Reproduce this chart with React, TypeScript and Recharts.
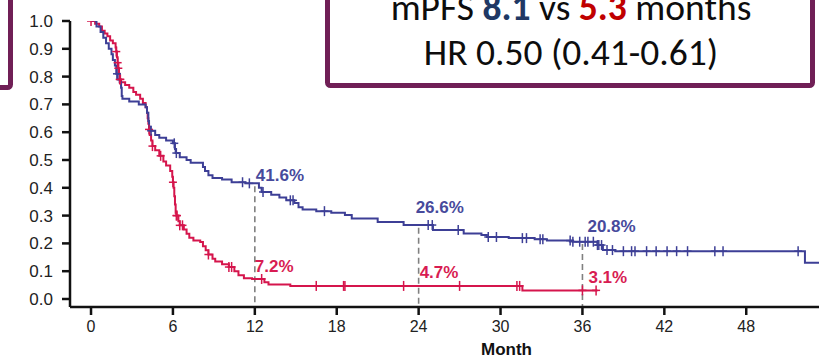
import { ComposedChart, Line, Scatter, XAxis, YAxis, ReferenceLine } from 'recharts'

// Kaplan-Meier steps: [month, survival probability]
const blueCurve: [number, number][] = [
  [0, 1.0], [0.4, 0.98], [0.7, 0.96], [0.9, 0.94], [1.1, 0.92], [1.3, 0.9], [1.5, 0.88],
  [1.6, 0.86], [1.75, 0.84], [1.85, 0.81], [1.95, 0.79], [2.1, 0.78], [2.2, 0.76], [2.25, 0.73],
  [2.3, 0.72], [2.8, 0.71], [3.5, 0.7], [4.0, 0.69], [4.1, 0.67], [4.2, 0.64], [4.25, 0.62],
  [4.35, 0.605], [4.7, 0.59], [5.0, 0.58], [5.5, 0.57], [6.0, 0.56], [6.15, 0.54], [6.2, 0.525],
  [6.5, 0.51], [7.0, 0.5], [7.3, 0.49], [8.2, 0.475], [8.35, 0.46], [8.6, 0.445], [8.9, 0.435],
  [9.6, 0.43], [10.3, 0.42], [11.3, 0.416], [12.3, 0.4], [12.5, 0.385], [13.2, 0.375],
  [13.8, 0.365], [14.3, 0.355], [14.9, 0.345], [15.2, 0.33], [15.5, 0.322], [16.5, 0.316],
  [17.6, 0.31], [18.6, 0.302], [19.1, 0.29], [21.0, 0.277], [22.9, 0.266], [25.05, 0.248],
  [27.3, 0.236], [28.6, 0.23], [29.0, 0.223], [30.6, 0.219], [32.5, 0.215], [33.4, 0.21],
  [35.3, 0.206], [37.1, 0.194], [37.5, 0.176], [38.4, 0.172], [52.3, 0.13], [54, 0.13],
]

const redCurve: [number, number][] = [
  [0, 1.0], [0.3, 0.99], [0.6, 0.98], [0.8, 0.965], [1.0, 0.955], [1.2, 0.945], [1.4, 0.93],
  [1.6, 0.92], [1.8, 0.905], [1.85, 0.89], [1.9, 0.87], [1.95, 0.85], [2.0, 0.83], [2.05, 0.81],
  [2.1, 0.79], [2.2, 0.78], [2.5, 0.77], [2.8, 0.76], [3.1, 0.745], [3.3, 0.735], [3.6, 0.72],
  [3.8, 0.705], [4.0, 0.69], [4.1, 0.67], [4.15, 0.65], [4.2, 0.63], [4.25, 0.61], [4.3, 0.59],
  [4.4, 0.57], [4.5, 0.55], [4.7, 0.535], [5.0, 0.515], [5.3, 0.495], [5.5, 0.48], [5.8, 0.46],
  [5.95, 0.44], [6.0, 0.42], [6.05, 0.4], [6.1, 0.37], [6.15, 0.34], [6.2, 0.31], [6.25, 0.3],
  [6.4, 0.28], [6.5, 0.265], [6.8, 0.25], [7.0, 0.235], [7.2, 0.22], [7.5, 0.21], [8.0, 0.205],
  [8.2, 0.19], [8.4, 0.175], [8.6, 0.16], [8.9, 0.145], [9.1, 0.135], [9.6, 0.125],
  [10.1, 0.115], [10.5, 0.1], [10.8, 0.085], [11.2, 0.075], [11.8, 0.072], [12.7, 0.06],
  [13.0, 0.052], [14.6, 0.047], [31.6, 0.031], [37.1, 0.031],
]

// censoring times (months)
const blueCensored = [
  1.9, 4.4, 6.1, 6.25, 11.1, 11.6, 12.6, 14.6, 14.8, 17.1, 24.7, 25.0, 26.9, 29.1, 29.7,
  31.6, 31.9, 32.9, 33.1, 35.1, 35.3, 35.8, 36.2, 36.4, 36.8, 37.1, 37.2, 37.4, 37.8, 38.2,
  39.0, 39.6, 39.85, 40.7, 41.4, 42.2, 42.9, 43.7, 45.7, 46.3, 51.8,
]
const redCensored = [
  0, 1.85, 1.95, 2.0, 2.1, 2.15, 4.25, 4.5, 5.1, 6.0, 6.25, 6.3, 6.5, 6.7, 8.6, 10.1, 10.3,
  12.5, 16.5, 18.5, 18.6, 22.9, 27.0, 31.2, 31.4, 36.0, 37.0,
]

const landmarkMonths = [12, 24, 36]
const blueLandmarks = [41.6, 26.6, 20.8]
const redLandmarks = [7.2, 4.7, 3.1]

const monthTicks = [0, 6, 12, 18, 24, 30, 36, 42, 48]
const survivalTicks = [0, 0.1, 0.2, 0.3, 0.4, 0.5, 0.6, 0.7, 0.8, 0.9, 1.0]

const BLUE = '#3d3f96'
const RED = '#d5154c'
const BLUE_TEXT = '#474a9c'
const RED_TEXT = '#d81c52'
const FRAME = '#701f56'
const AXIS_FONT = '"Liberation Sans", Arial, sans-serif'

const X_MIN = -1.54
const X_MAX = 53.33
const Y_MIN = -0.0288

// label offsets [dx, dy] in px: blue 12/24/36 then red 12/24/36
const labelNudges: [number, number][] = [
  [1, -2], [-3, -12], [5, -9],
  [0, -7], [1, -8], [6, -7],
]

function survivalAt(curve: [number, number][], t: number) {
  let s = curve[0][1]
  for (const [ct, cs] of curve) {
    if (ct <= t) s = cs
    else break
  }
  return s
}

const toRows = (curve: [number, number][]) => curve.map(([t, s]) => ({ t, s }))
const censorRows = (curve: [number, number][], months: number[]) =>
  months.map((t) => ({ t, s: survivalAt(curve, t) }))

const landmarkLabels = [
  ...landmarkMonths.map((t, i) => ({ t, s: blueLandmarks[i] / 100, text: `${blueLandmarks[i].toFixed(1)}%`, color: BLUE_TEXT })),
  ...landmarkMonths.map((t, i) => ({ t, s: redLandmarks[i] / 100, text: `${redLandmarks[i].toFixed(1)}%`, color: RED_TEXT })),
].map((d, i) => ({ ...d, dx: labelNudges[i][0], dy: labelNudges[i][1] }))

const censorMark = (color: string) => (props: any) => {
  const { cx, cy } = props
  if (cx == null || cy == null) return <g />
  return (
    <g stroke={color} strokeWidth={1.5}>
      <line x1={cx} x2={cx} y1={cy - 5} y2={cy + 5} />
      <line x1={cx - 4} x2={cx + 4} y1={cy} y2={cy} />
    </g>
  )
}

const percentLabel = (props: any) => {
  const { cx, cy, payload } = props
  if (cx == null || cy == null) return <g />
  return (
    <text
      x={cx + payload.dx}
      y={cy + payload.dy}
      fill={payload.color}
      fontSize={17}
      fontWeight="bold"
      fontFamily={AXIS_FONT}
    >
      {payload.text}
    </text>
  )
}

function SummaryBox() {
  return (
    <svg width={819} height={358} style={{ position: 'absolute', left: 0, top: 0, pointerEvents: 'none' }}>
      <rect x={-20} y={-20} width={30.5} height={107.5} fill="none" stroke={FRAME} strokeWidth={5} rx={3} />
      <rect x={327.5} y={-20} width={485} height={105.5} fill="#fff" stroke={FRAME} strokeWidth={5} rx={3} />
      <g fontFamily="Carlito, Calibri, Lato, sans-serif" fontSize={37.5} fill="#0d0d0d" textAnchor="middle">
        <text x={571} y={20}>
          mPFS <tspan fill="#203864" fontWeight="bold">8.1</tspan> vs{' '}
          <tspan fill="#c00000" fontWeight="bold">5.3</tspan> months
        </text>
        <text x={571} y={65}>HR 0.50 (0.41-0.61)</text>
      </g>
    </svg>
  )
}

export default function App() {
  return (
    <div style={{ position: 'absolute', left: 0, top: 0, width: 819, height: 358, overflow: 'hidden', background: '#fff' }}>
      <ComposedChart width={819} height={358} margin={{ top: 21, right: 0, bottom: 0, left: 0 }}>
        <XAxis
          type="number"
          dataKey="t"
          domain={[X_MIN, X_MAX]}
          ticks={monthTicks}
          interval={0}
          allowDataOverflow
          height={51}
          tickSize={8}
          tickMargin={6}
          axisLine={{ stroke: '#111', strokeWidth: 2.5 }}
          tickLine={{ stroke: '#111', strokeWidth: 2.5 }}
          tick={{ fill: '#222', fontSize: 16, fontFamily: AXIS_FONT }}
          label={{ value: 'Month', position: 'insideBottom', offset: 3, dx: 62, fill: '#111', fontWeight: 'bold', fontSize: 17, fontFamily: AXIS_FONT }}
        />
        <YAxis
          type="number"
          domain={[Y_MIN, 1]}
          ticks={survivalTicks}
          interval={0}
          allowDataOverflow
          width={70}
          tickSize={8}
          tickMargin={9}
          tickFormatter={(v: number) => v.toFixed(1)}
          axisLine={{ stroke: '#111', strokeWidth: 2.5 }}
          tickLine={{ stroke: '#111', strokeWidth: 2.5 }}
          tick={{ fill: '#222', fontSize: 17, fontFamily: AXIS_FONT }}
        />
        {landmarkMonths.map((t, i) => (
          <ReferenceLine
            key={t}
            segment={[{ x: t, y: blueLandmarks[i] / 100 - 0.01 }, { x: t, y: Y_MIN }]}
            stroke="#808080"
            strokeWidth={1.6}
            strokeDasharray="6 4"
          />
        ))}
        <Line data={toRows(redCurve)} dataKey="s" type="stepAfter" stroke={RED} strokeWidth={2} dot={false} isAnimationActive={false} />
        <Line data={toRows(blueCurve)} dataKey="s" type="stepAfter" stroke={BLUE} strokeWidth={2} dot={false} isAnimationActive={false} />
        <Scatter data={censorRows(redCurve, redCensored)} dataKey="s" shape={censorMark(RED)} isAnimationActive={false} />
        <Scatter data={censorRows(blueCurve, blueCensored)} dataKey="s" shape={censorMark(BLUE)} isAnimationActive={false} />
        <Scatter data={landmarkLabels} dataKey="s" shape={percentLabel} isAnimationActive={false} />
      </ComposedChart>
      <SummaryBox />
    </div>
  )
}
